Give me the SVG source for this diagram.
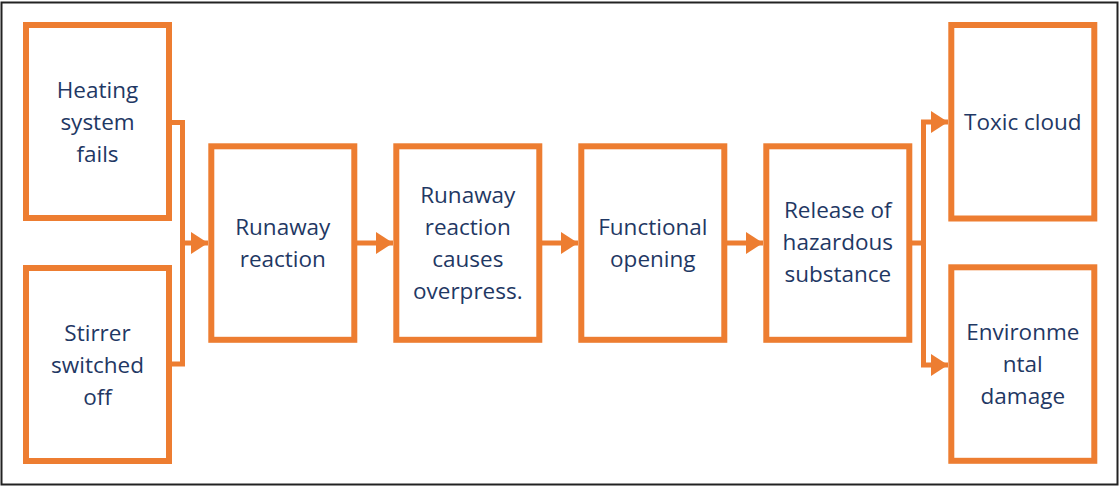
<svg xmlns="http://www.w3.org/2000/svg" width="1120" height="487" viewBox="0 0 1120 487">
<style>
.box{fill:#fff;stroke:#ED7D31;stroke-width:6}
.lbl{font-family:"Open Sans","Liberation Sans",sans-serif;font-size:22.5px;fill:#1F3864;text-anchor:middle}
.con{fill:none;stroke:#ED7D31;stroke-width:5;stroke-linejoin:miter}
</style>
<defs>
<marker id="arr" markerUnits="userSpaceOnUse" markerWidth="18" markerHeight="22" refX="17" refY="11" orient="auto">
<path d="M0,0 L17,11 L0,22 Z" fill="#ED7D31"/>
</marker>
</defs>
<rect x="1.5" y="2.5" width="1116" height="482" fill="#fff" stroke="#222" stroke-width="2"/>
<g id="connectors">
<path class="con" d="M172,122.5 H182.5 V364 H172"/>
<path class="con" d="M182.5,243 H208" marker-end="url(#arr)"/>
<path class="con" d="M357,243 H393" marker-end="url(#arr)"/>
<path class="con" d="M542,243 H578" marker-end="url(#arr)"/>
<path class="con" d="M727,243 H763" marker-end="url(#arr)"/>
<path class="con" d="M912,243 H923.5"/>
<path class="con" d="M923.5,365 V122 H948" marker-end="url(#arr)"/>
<path class="con" d="M923.5,240 V365 H948" marker-end="url(#arr)"/>
</g>
<g id="heating"><rect class="box" x="26" y="25" width="143" height="193"/>
<text class="lbl" x="97.5" y="98">Heating</text><text class="lbl" x="97.5" y="130">system</text><text class="lbl" x="97.5" y="162">fails</text></g>
<g id="stirrer"><rect class="box" x="26" y="268" width="143" height="193"/>
<text class="lbl" x="97.5" y="341">Stirrer</text><text class="lbl" x="97.5" y="373">switched</text><text class="lbl" x="97.5" y="405">off</text></g>
<g id="runaway"><rect class="box" x="211.3" y="146.3" width="143" height="193.5"/>
<text class="lbl" x="282.8" y="235">Runaway</text><text class="lbl" x="282.8" y="267">reaction</text></g>
<g id="overpress"><rect class="box" x="396.3" y="146.3" width="143" height="193.5"/>
<text class="lbl" x="467.8" y="203">Runaway</text><text class="lbl" x="467.8" y="235">reaction</text><text class="lbl" x="467.8" y="267">causes</text><text class="lbl" x="467.8" y="299">overpress.</text></g>
<g id="opening"><rect class="box" x="581.3" y="146.3" width="143" height="193.5"/>
<text class="lbl" x="652.8" y="235">Functional</text><text class="lbl" x="652.8" y="267">opening</text></g>
<g id="release"><rect class="box" x="766.3" y="146.3" width="143" height="193.5"/>
<text class="lbl" x="837.8" y="218">Release of</text><text class="lbl" x="837.8" y="250">hazardous</text><text class="lbl" x="837.8" y="282">substance</text></g>
<g id="toxic"><rect class="box" x="951.3" y="25" width="143" height="193.5"/>
<text class="lbl" x="1022.8" y="130">Toxic cloud</text></g>
<g id="environment"><rect class="box" x="951.3" y="267.3" width="143" height="193.5"/>
<text class="lbl" x="1022.8" y="340">Environme</text><text class="lbl" x="1022.8" y="372">ntal</text><text class="lbl" x="1022.8" y="404">damage</text></g>
</svg>
